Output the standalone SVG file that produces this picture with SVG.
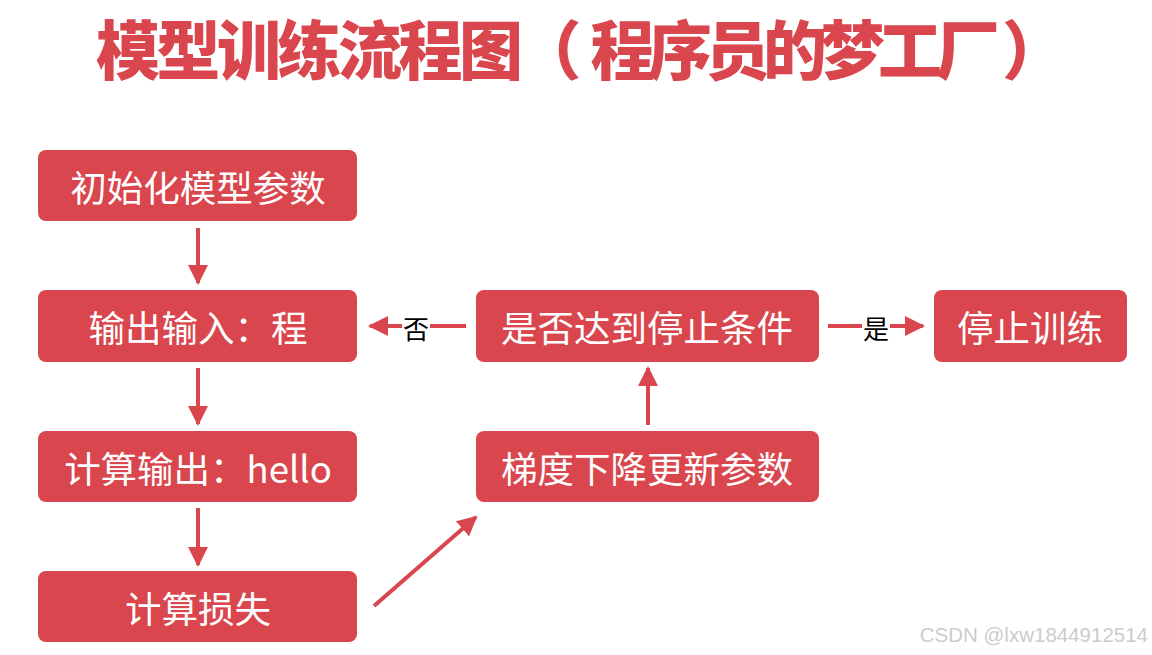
<svg xmlns="http://www.w3.org/2000/svg" width="1152" height="655" viewBox="0 0 1152 655">
<style>
.box{fill:#D9464D;}
.lbl{font-family:"Microsoft YaHei","Noto Sans CJK SC","Noto Sans",sans-serif;font-size:36.5px;fill:#ffffff;text-anchor:middle;dominant-baseline:central;}
.title{font-family:"Noto Sans CJK SC",sans-serif;font-weight:900;font-size:64px;fill:#D9464D;}
.edge{stroke:#D9464D;stroke-width:4;fill:none;}
.elbl{font-family:"Noto Sans CJK SC",sans-serif;font-size:26px;fill:#000;text-anchor:middle;dominant-baseline:central;}
</style>
<defs>
<marker id="ah" markerWidth="5" markerHeight="5" refX="4.5" refY="2.5" orient="auto" markerUnits="strokeWidth">
<path d="M0,0 L5,2.5 L0,5 Z" fill="#D9464D"/>
</marker>
</defs>
<rect width="1152" height="655" fill="#ffffff"/>
<g id="title">
<text class="title" x="96" y="74"><tspan letter-spacing="-3.5">模型训练流程图</tspan><tspan dx="-2">（</tspan><tspan dx="9" letter-spacing="-6.5">程序员的梦工厂</tspan><tspan dx="9">）</tspan></text>
</g>
<g id="n1"><rect class="box" x="38" y="150" width="319" height="71" rx="8"/><text class="lbl" x="198" y="186">初始化模型参数</text></g>
<g id="n2"><rect class="box" x="38" y="290" width="319" height="72" rx="8"/><text class="lbl" x="198" y="326">输出输入：程</text></g>
<g id="n3"><rect class="box" x="38" y="431" width="319" height="71" rx="8"/><text class="lbl" x="198" y="467">计算输出：hello</text></g>
<g id="n4"><rect class="box" x="38" y="571" width="319" height="71" rx="8"/><text class="lbl" x="198" y="607">计算损失</text></g>
<g id="n5"><rect class="box" x="476" y="290" width="343" height="72" rx="8"/><text class="lbl" x="647" y="326">是否达到停止条件</text></g>
<g id="n6"><rect class="box" x="476" y="431" width="343" height="71" rx="8"/><text class="lbl" x="647" y="467">梯度下降更新参数</text></g>
<g id="n7"><rect class="box" x="934" y="290" width="193" height="72" rx="8"/><text class="lbl" x="1030" y="326">停止训练</text></g>
<g id="edges">
<line class="edge" x1="198" y1="228" x2="198" y2="283" marker-end="url(#ah)"/>
<line class="edge" x1="198" y1="368" x2="198" y2="424" marker-end="url(#ah)"/>
<line class="edge" x1="198" y1="508" x2="198" y2="565" marker-end="url(#ah)"/>
<line class="edge" x1="374" y1="606" x2="476" y2="517" marker-end="url(#ah)"/>
<line class="edge" x1="648" y1="425" x2="648" y2="368" marker-end="url(#ah)"/>
<line class="edge" x1="466" y1="326" x2="430" y2="326"/>
<line class="edge" x1="402" y1="326" x2="370" y2="326" marker-end="url(#ah)"/>
<text class="elbl" x="416" y="327">否</text>
<line class="edge" x1="828" y1="326" x2="862" y2="326"/>
<line class="edge" x1="890" y1="326" x2="923" y2="326" marker-end="url(#ah)"/>
<text class="elbl" x="876" y="327">是</text>
</g>
<text x="1148" y="642" text-anchor="end" font-family="Liberation Sans, sans-serif" font-size="20.5" fill="#cccccc">CSDN @lxw1844912514</text>
</svg>
